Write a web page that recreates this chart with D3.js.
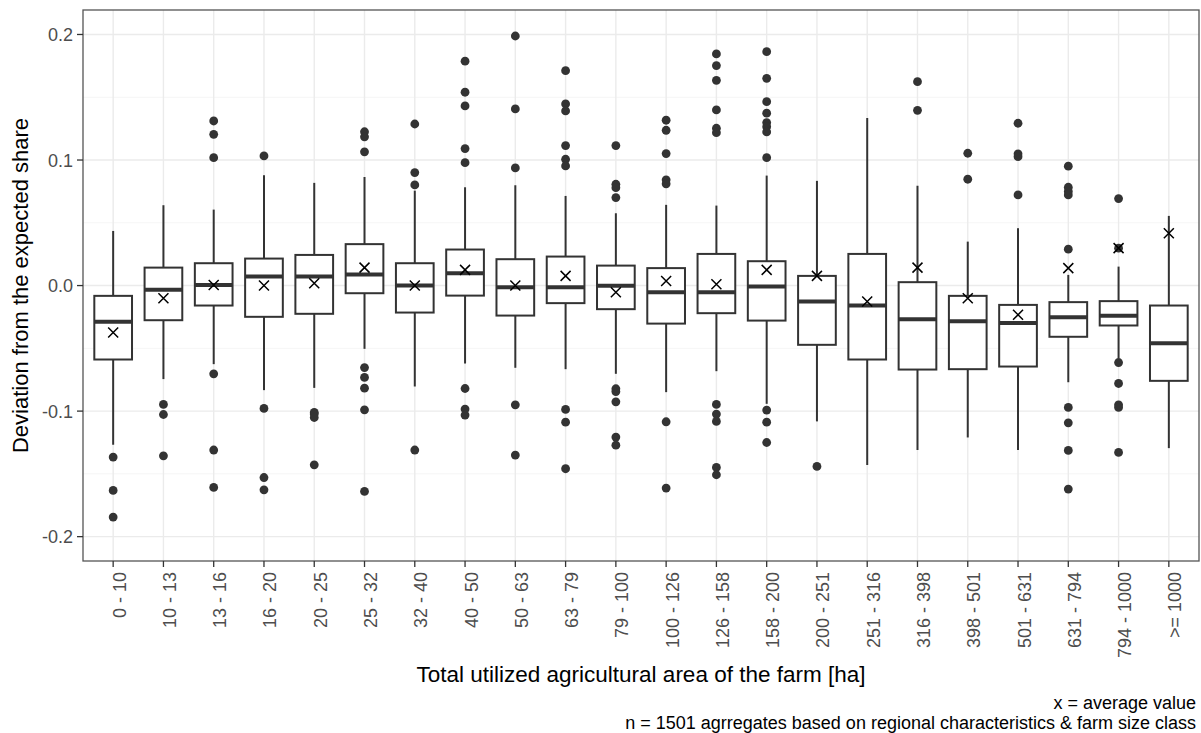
<!DOCTYPE html>
<html>
<head>
<meta charset="utf-8">
<script src="https://cdn.jsdelivr.net/npm/d3@7"></script>
<style>
  body { margin: 0; background: #fff; }
  text { font-family: "Liberation Sans", Arial, sans-serif; }
</style>
</head>
<body>
<div class="chart-container"></div>
<script>
/*** DATA ***/
const categories = ['0 - 10', '10 - 13', '13 - 16', '16 - 20', '20 - 25', '25 - 32', '32 - 40',
  '40 - 50', '50 - 63', '63 - 79', '79 - 100', '100 - 126', '126 - 158', '158 - 200',
  '200 - 251', '251 - 316', '316 - 398', '398 - 501', '501 - 631', '631 - 794',
  '794 - 1000', '>= 1000'];

const whiskerHigh = [0.0435, 0.064, 0.0605, 0.0879, 0.0818, 0.0865, 0.0756, 0.0783, 0.0799, 0.0714,
  0.0576, 0.0643, 0.0637, 0.0876, 0.0834, 0.1335, 0.0796, 0.035, 0.0457, 0.0085, 0.0151, 0.0555];
const q3 = [-0.0082, 0.0143, 0.0178, 0.0215, 0.0244, 0.033, 0.0178, 0.0287, 0.021, 0.0231,
  0.0159, 0.0139, 0.0252, 0.0194, 0.0077, 0.0252, 0.0027, -0.0082, -0.0154, -0.0132, -0.0124, -0.0159];
const medians = [-0.0289, -0.0034, 0.0005, 0.0072, 0.0072, 0.0088, 0.0, 0.0099, -0.0013, -0.0013,
  -0.0002, -0.0053, -0.0053, -0.0008, -0.0127, -0.0159, -0.0268, -0.0284, -0.0299, -0.0252, -0.0241, -0.0459];
const q1 = [-0.0589, -0.0276, -0.0159, -0.0249, -0.0225, -0.0061, -0.0215, -0.008, -0.0239, -0.014,
  -0.0188, -0.0303, -0.022, -0.0279, -0.0472, -0.0589, -0.0669, -0.0666, -0.0645, -0.0408, -0.0318, -0.0759];
const whiskerLow = [-0.1268, -0.0745, -0.0626, -0.0833, -0.0815, -0.0504, -0.0804, -0.0621, -0.0655, -0.0666,
  -0.0703, -0.0849, -0.0682, -0.0942, -0.1082, -0.143, -0.131, -0.121, -0.131, -0.077, -0.0578, -0.1295];
const means = [-0.0374, -0.0101, 0.0005, 0.0, 0.0019, 0.0143, 0.0, 0.0125, 0.0, 0.0077,
  -0.0053, 0.0037, 0.0011, 0.0125, 0.0077, -0.0127, 0.0143, -0.0101, -0.0233, 0.0139, 0.0298, 0.0417];
const outliers = [
  [-0.1366, -0.1632, -0.1844],
  [-0.0947, -0.1027, -0.1356],
  [0.1311, 0.1205, 0.1019, -0.0703, -0.131, -0.1608],
  [0.1033, -0.0979, -0.1529, -0.1627],
  [-0.1011, -0.1024, -0.1051, -0.1428],
  [0.1225, 0.1185, 0.1065, -0.0653, -0.0732, -0.0817, -0.099, -0.164],
  [0.1287, 0.09, 0.0802, -0.131],
  [0.1787, 0.154, 0.1431, 0.1091, 0.0979, -0.082, -0.0984, -0.1032],
  [0.1988, 0.1407, 0.0937, -0.095, -0.135],
  [0.1712, 0.1447, 0.1391, 0.1115, 0.1006, 0.0953, -0.0987, -0.1088, -0.1459],
  [0.1115, 0.0807, 0.078, 0.0701, -0.0822, -0.0844, -0.0926, -0.1207, -0.1271],
  [0.1317, 0.1237, 0.1051, 0.0842, 0.081, -0.1085, -0.1613],
  [0.1845, 0.1752, 0.1635, 0.1399, 0.1253, 0.1218, -0.0947, -0.1024, -0.1082, -0.1449, -0.1507],
  [0.1863, 0.1651, 0.1465, 0.1373, 0.1298, 0.1266, 0.1224, 0.1019, -0.0992, -0.1088, -0.125],
  [-0.1441],
  [],
  [0.1624, 0.1396],
  [0.1054, 0.0847],
  [0.1293, 0.1049, 0.1027, 0.0722],
  [0.0951, 0.0783, 0.075, 0.0722, 0.029, -0.0971, -0.1093, -0.1313, -0.1621],
  [0.0693, 0.0298, -0.0613, -0.078, -0.095, -0.0971, -0.1329],
  []
];
const yTicks = [-0.2, -0.1, 0.0, 0.1, 0.2];
const yMinorTicks = [-0.15, -0.05, 0.05, 0.15];

/*** DRAW CHART ***/
function drawChart() {
  const margin = { top: 10, left: 83, right: 2, bottom: 172 };
  const width = 1201 - margin.left - margin.right,
        height = 733 - margin.top - margin.bottom;

  const svg = d3.select('.chart-container')
    .append('svg')
    .attr('width', 1201)
    .attr('height', 733);

  const chart = svg.append('g')
    .attr('transform', `translate(${margin.left}, ${margin.top})`);

  const x = d3.scaleBand()
    .domain(categories)
    .range([0, width])
    .paddingOuter(0.1)
    .paddingInner(0);

  const y = d3.scaleLinear()
    .domain([-0.2194, 0.2195])
    .range([height, 0]);

  const cx = i => x(categories[i]) + x.bandwidth() / 2;
  const boxW = x.bandwidth() * 0.75;

  // grid
  chart.append('g').selectAll('line')
    .data(yMinorTicks)
    .join('line')
    .attr('x1', 0).attr('x2', width)
    .attr('y1', d => y(d)).attr('y2', d => y(d))
    .style('stroke', '#f2f2f2')
    .style('stroke-width', 0.8);

  chart.append('g').selectAll('line')
    .data(yTicks)
    .join('line')
    .attr('x1', 0).attr('x2', width)
    .attr('y1', d => y(d)).attr('y2', d => y(d))
    .style('stroke', '#ebebeb')
    .style('stroke-width', 1.4);

  chart.append('g').selectAll('line')
    .data(categories)
    .join('line')
    .attr('x1', (d, i) => cx(i)).attr('x2', (d, i) => cx(i))
    .attr('y1', 0).attr('y2', height)
    .style('stroke', '#ebebeb')
    .style('stroke-width', 1.4);

  // boxes
  const boxes = chart.append('g').selectAll('g')
    .data(categories)
    .join('g');

  boxes.append('line')
    .attr('x1', (d, i) => cx(i)).attr('x2', (d, i) => cx(i))
    .attr('y1', (d, i) => y(whiskerHigh[i]))
    .attr('y2', (d, i) => y(whiskerLow[i]))
    .style('stroke', '#333')
    .style('stroke-width', 2);

  boxes.append('rect')
    .attr('x', (d, i) => cx(i) - boxW / 2)
    .attr('width', boxW)
    .attr('y', (d, i) => y(q3[i]))
    .attr('height', (d, i) => y(q1[i]) - y(q3[i]))
    .style('fill', 'white')
    .style('stroke', '#333')
    .style('stroke-width', 2);

  boxes.append('line')
    .attr('x1', (d, i) => cx(i) - boxW / 2).attr('x2', (d, i) => cx(i) + boxW / 2)
    .attr('y1', (d, i) => y(medians[i])).attr('y2', (d, i) => y(medians[i]))
    .style('stroke', '#333')
    .style('stroke-width', 4);

  // outliers
  const pts = [];
  outliers.forEach((arr, i) => arr.forEach(v => pts.push({ i, v })));
  chart.append('g').selectAll('circle')
    .data(pts)
    .join('circle')
    .attr('cx', d => cx(d.i))
    .attr('cy', d => y(d.v))
    .attr('r', 4.4)
    .style('fill', '#333');

  // means
  chart.append('g').selectAll('path')
    .data(means)
    .join('path')
    .attr('d', (d, i) => {
      const px = cx(i), py = y(d), s = 5;
      return `M${px - s},${py - s}L${px + s},${py + s}M${px - s},${py + s}L${px + s},${py - s}`;
    })
    .style('stroke', '#000')
    .style('stroke-width', 1.5)
    .style('fill', 'none');

  // panel border
  chart.append('rect')
    .attr('x', 0).attr('y', 0)
    .attr('width', width).attr('height', height)
    .style('fill', 'none')
    .style('stroke', '#555')
    .style('stroke-width', 1.3);

  // y axis
  const yAxis = chart.append('g');
  yAxis.selectAll('line')
    .data(yTicks)
    .join('line')
    .attr('x1', -6).attr('x2', 0)
    .attr('y1', d => y(d)).attr('y2', d => y(d))
    .style('stroke', '#333')
    .style('stroke-width', 1.3);
  yAxis.selectAll('text')
    .data(yTicks)
    .join('text')
    .attr('x', -10)
    .attr('y', d => y(d))
    .attr('dy', '0.36em')
    .attr('text-anchor', 'end')
    .style('font-size', '18px')
    .style('fill', '#4d4d4d')
    .text(d => d3.format('.1f')(d).replace('−', '-'));

  // x axis
  const xAxis = chart.append('g');
  xAxis.selectAll('line')
    .data(categories)
    .join('line')
    .attr('x1', (d, i) => cx(i)).attr('x2', (d, i) => cx(i))
    .attr('y1', height).attr('y2', height + 6)
    .style('stroke', '#333')
    .style('stroke-width', 1.3);
  xAxis.selectAll('text')
    .data(categories)
    .join('text')
    .attr('transform', (d, i) => `translate(${cx(i) + 12.5}, ${height + 11}) rotate(-90)`)
    .attr('text-anchor', 'end')
    .style('font-size', '18px')
    .style('fill', '#4d4d4d')
    .text(d => d);

  // titles
  svg.append('text')
    .attr('x', margin.left + width / 2)
    .attr('y', 682)
    .attr('text-anchor', 'middle')
    .style('font-size', '22.5px')
    .style('fill', '#000')
    .text('Total utilized agricultural area of the farm [ha]');

  svg.append('text')
    .attr('transform', `translate(28, ${margin.top + height / 2}) rotate(-90)`)
    .attr('text-anchor', 'middle')
    .style('font-size', '22px')
    .style('fill', '#000')
    .text('Deviation from the expected share');

  // caption
  svg.append('text')
    .attr('x', 1196)
    .attr('y', 709)
    .attr('text-anchor', 'end')
    .style('font-size', '18px')
    .text('x = average value');
  svg.append('text')
    .attr('x', 1196)
    .attr('y', 729)
    .attr('text-anchor', 'end')
    .style('font-size', '18px')
    .text('n = 1501 agrregates based on regional characteristics & farm size class');
}

drawChart();
</script>
</body>
</html>
